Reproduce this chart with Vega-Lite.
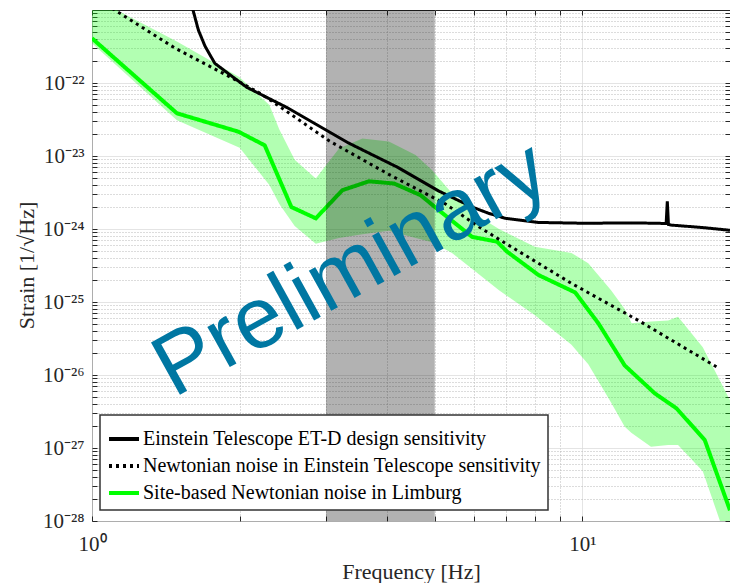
{
  "$schema": "https://vega.github.io/schema/vega-lite/v6.json",
  "width": 638,
  "height": 511,
  "autosize": {"type": "none"},
  "padding": {"left": 92, "top": 10, "right": 0, "bottom": 62},
  "background": "white",
  "config": {
    "view": {"stroke": "#262626", "strokeWidth": 1},
    "font": "Liberation Serif",
    "legend": {
      "direction": "vertical",
      "symbolType": "stroke",
      "symbolSize": 900,
      "symbolStrokeWidth": 4,
      "symbolOffset": 0,
      "labelFont": "Liberation Serif",
      "labelFontSize": 20,
      "labelColor": "#000000",
      "labelLimit": 800,
      "labelOffset": 2,
      "rowPadding": 0,
      "padding": 7,
      "fillColor": "#ffffff",
      "strokeColor": "#333333",
      "strokeWidth": 1.5
    }
  },
  "datasets": {
    "lines": [
      {"series": "Einstein Telescope ET-D design sensitivity", "f": 1.59, "strain": 1.3e-21},
      {"series": "Einstein Telescope ET-D design sensitivity", "f": 1.648, "strain": 5.3e-22},
      {"series": "Einstein Telescope ET-D design sensitivity", "f": 1.70, "strain": 3.2e-22},
      {"series": "Einstein Telescope ET-D design sensitivity", "f": 1.78, "strain": 1.86e-22},
      {"series": "Einstein Telescope ET-D design sensitivity", "f": 1.925, "strain": 1.25e-22},
      {"series": "Einstein Telescope ET-D design sensitivity", "f": 2.07, "strain": 8.7e-23},
      {"series": "Einstein Telescope ET-D design sensitivity", "f": 2.5, "strain": 4.6e-23},
      {"series": "Einstein Telescope ET-D design sensitivity", "f": 3.34, "strain": 1.5e-23},
      {"series": "Einstein Telescope ET-D design sensitivity", "f": 4.2, "strain": 7.0e-24},
      {"series": "Einstein Telescope ET-D design sensitivity", "f": 5.1, "strain": 3.3e-24},
      {"series": "Einstein Telescope ET-D design sensitivity", "f": 5.96, "strain": 2.0e-24},
      {"series": "Einstein Telescope ET-D design sensitivity", "f": 6.44, "strain": 1.64e-24},
      {"series": "Einstein Telescope ET-D design sensitivity", "f": 6.96, "strain": 1.4e-24},
      {"series": "Einstein Telescope ET-D design sensitivity", "f": 8.14, "strain": 1.23e-24},
      {"series": "Einstein Telescope ET-D design sensitivity", "f": 10.0, "strain": 1.2e-24},
      {"series": "Einstein Telescope ET-D design sensitivity", "f": 13.0, "strain": 1.21e-24},
      {"series": "Einstein Telescope ET-D design sensitivity", "f": 14.82, "strain": 1.19e-24},
      {"series": "Einstein Telescope ET-D design sensitivity", "f": 14.9, "strain": 2.4e-24},
      {"series": "Einstein Telescope ET-D design sensitivity", "f": 14.98, "strain": 1.15e-24},
      {"series": "Einstein Telescope ET-D design sensitivity", "f": 15.2, "strain": 1.13e-24},
      {"series": "Einstein Telescope ET-D design sensitivity", "f": 17.5, "strain": 1.05e-24},
      {"series": "Einstein Telescope ET-D design sensitivity", "f": 20.0, "strain": 9.6e-25},

      {"series": "Newtonian noise in Einstein Telescope sensitivity", "f": 1.10, "strain": 1.05e-21},
      {"series": "Newtonian noise in Einstein Telescope sensitivity", "f": 1.477, "strain": 3.0e-22},
      {"series": "Newtonian noise in Einstein Telescope sensitivity", "f": 1.99, "strain": 1.05e-22},
      {"series": "Newtonian noise in Einstein Telescope sensitivity", "f": 2.22, "strain": 7.0e-23},
      {"series": "Newtonian noise in Einstein Telescope sensitivity", "f": 3.05, "strain": 1.6e-23},
      {"series": "Newtonian noise in Einstein Telescope sensitivity", "f": 4.03, "strain": 5.6e-24},
      {"series": "Newtonian noise in Einstein Telescope sensitivity", "f": 5.26, "strain": 2.2e-24},
      {"series": "Newtonian noise in Einstein Telescope sensitivity", "f": 6.15, "strain": 1.07e-24},
      {"series": "Newtonian noise in Einstein Telescope sensitivity", "f": 6.96, "strain": 6.4e-25},
      {"series": "Newtonian noise in Einstein Telescope sensitivity", "f": 9.5, "strain": 1.8e-25},
      {"series": "Newtonian noise in Einstein Telescope sensitivity", "f": 13.0, "strain": 5.6e-26},
      {"series": "Newtonian noise in Einstein Telescope sensitivity", "f": 18.9, "strain": 1.26e-26},

      {"series": "Site-based Newtonian noise in Limburg", "f": 1.0, "strain": 4.1e-22},
      {"series": "Site-based Newtonian noise in Limburg", "f": 1.49, "strain": 3.85e-23},
      {"series": "Site-based Newtonian noise in Limburg", "f": 1.99, "strain": 2.15e-23},
      {"series": "Site-based Newtonian noise in Limburg", "f": 2.25, "strain": 1.4e-23},
      {"series": "Site-based Newtonian noise in Limburg", "f": 2.55, "strain": 2.0e-24},
      {"series": "Site-based Newtonian noise in Limburg", "f": 2.86, "strain": 1.4e-24},
      {"series": "Site-based Newtonian noise in Limburg", "f": 3.24, "strain": 3.4e-24},
      {"series": "Site-based Newtonian noise in Limburg", "f": 3.67, "strain": 4.5e-24},
      {"series": "Site-based Newtonian noise in Limburg", "f": 4.13, "strain": 4.2e-24},
      {"series": "Site-based Newtonian noise in Limburg", "f": 4.68, "strain": 2.9e-24},
      {"series": "Site-based Newtonian noise in Limburg", "f": 5.1, "strain": 1.8e-24},
      {"series": "Site-based Newtonian noise in Limburg", "f": 5.96, "strain": 7.8e-25},
      {"series": "Site-based Newtonian noise in Limburg", "f": 6.7, "strain": 6.7e-25},
      {"series": "Site-based Newtonian noise in Limburg", "f": 7.02, "strain": 4.9e-25},
      {"series": "Site-based Newtonian noise in Limburg", "f": 8.14, "strain": 2.34e-25},
      {"series": "Site-based Newtonian noise in Limburg", "f": 9.67, "strain": 1.35e-25},
      {"series": "Site-based Newtonian noise in Limburg", "f": 10.78, "strain": 5.1e-26},
      {"series": "Site-based Newtonian noise in Limburg", "f": 12.2, "strain": 1.35e-26},
      {"series": "Site-based Newtonian noise in Limburg", "f": 14.05, "strain": 5.6e-27},
      {"series": "Site-based Newtonian noise in Limburg", "f": 15.55, "strain": 3.5e-27},
      {"series": "Site-based Newtonian noise in Limburg", "f": 17.76, "strain": 1.29e-27},
      {"series": "Site-based Newtonian noise in Limburg", "f": 20.0, "strain": 1.4e-28}
    ],
    "band": [
      {"f": 1.0, "hi": 1.5e-21, "lo": 3.5e-22},
      {"f": 1.49, "hi": 3.7e-22, "lo": 3.1e-23},
      {"f": 2.0, "hi": 1.2e-22, "lo": 1.3e-23},
      {"f": 2.3, "hi": 5.0e-23, "lo": 4.0e-24},
      {"f": 2.41, "hi": 2.3e-23, "lo": 2.2e-24},
      {"f": 2.59, "hi": 8.9e-24, "lo": 1.1e-24},
      {"f": 2.86, "hi": 4.9e-24, "lo": 6.3e-25},
      {"f": 3.19, "hi": 1.27e-23, "lo": 7.5e-25},
      {"f": 3.56, "hi": 1.73e-23, "lo": 8.5e-25},
      {"f": 4.03, "hi": 1.58e-23, "lo": 9.5e-25},
      {"f": 4.57, "hi": 1.03e-23, "lo": 7.5e-25},
      {"f": 4.94, "hi": 6.4e-24, "lo": 6.6e-25},
      {"f": 5.42, "hi": 3.1e-24, "lo": 4.7e-25},
      {"f": 6.15, "hi": 1.48e-24, "lo": 2.4e-25},
      {"f": 6.76, "hi": 1.0e-24, "lo": 1.45e-25},
      {"f": 8.0, "hi": 5.7e-25, "lo": 6.6e-26},
      {"f": 9.5, "hi": 4.7e-25, "lo": 2.6e-26},
      {"f": 10.28, "hi": 3.4e-25, "lo": 1.4e-26},
      {"f": 11.44, "hi": 1.45e-25, "lo": 4.2e-27},
      {"f": 12.2, "hi": 8.0e-26, "lo": 1.95e-27},
      {"f": 12.6, "hi": 5.1e-26, "lo": 1.6e-27},
      {"f": 13.8, "hi": 5.4e-26, "lo": 1.04e-27},
      {"f": 14.96, "hi": 5.6e-26, "lo": 1.1e-27},
      {"f": 15.67, "hi": 6.3e-26, "lo": 1.1e-27},
      {"f": 17.6, "hi": 2.4e-26, "lo": 4.8e-28},
      {"f": 20.0, "hi": 4.5e-27, "lo": 4.0e-29}
    ],
    "focus": [{"f0": 3, "f1": 5}],
    "note": [{"f": 3.38, "strain": 2.75e-25, "text": "Preliminary"}]
  },
  "layer": [
    {
      "data": {"name": "band"},
      "mark": {"type": "area", "color": "#00ff00", "opacity": 0.3, "clip": true},
      "encoding": {
        "x": {
          "field": "f",
          "type": "quantitative",
          "scale": {"type": "log", "domain": [1, 20], "nice": false},
          "axis": {
            "orient": "bottom",
            "values": [1, 2, 3, 4, 5, 6, 7, 8, 9, 10, 20],
            "labelExpr": "datum.value == 1 ? '10⁰' : datum.value == 10 ? '10¹' : ''",
            "labelOverlap": false,
            "labelFlush": false,
            "labelBound": false,
            "labelFont": "Liberation Serif",
            "labelFontSize": 21,
            "labelColor": "#262626",
            "labelPadding": 17,
            "grid": true,
            "gridColor": {"condition": {"test": "datum.value == 1 || datum.value == 10", "value": "#dadada"}, "value": "#b8b8b8"},
            "gridDash": {"condition": {"test": "datum.value == 1 || datum.value == 10", "value": [1, 0]}, "value": [1, 2]},
            "domain": false,
            "ticks": true,
            "tickSize": -5,
            "tickColor": "#262626",
            "title": "Frequency [Hz]",
            "titleFont": "Liberation Serif",
            "titleFontSize": 22,
            "titleFontWeight": "normal",
            "titleColor": "#262626",
            "titleBaseline": "alphabetic",
            "titleY": 57
          }
        },
        "y": {
          "field": "hi",
          "type": "quantitative",
          "scale": {"type": "log", "domain": [1e-28, 1e-21], "nice": false},
          "axis": {
            "orient": "left",
            "values": [1e-28, 2e-28, 3e-28, 4e-28, 5e-28, 6e-28, 7e-28, 8e-28, 9e-28,
                       1e-27, 2e-27, 3e-27, 4e-27, 5e-27, 6e-27, 7e-27, 8e-27, 9e-27,
                       1e-26, 2e-26, 3e-26, 4e-26, 5e-26, 6e-26, 7e-26, 8e-26, 9e-26,
                       1e-25, 2e-25, 3e-25, 4e-25, 5e-25, 6e-25, 7e-25, 8e-25, 9e-25,
                       1e-24, 2e-24, 3e-24, 4e-24, 5e-24, 6e-24, 7e-24, 8e-24, 9e-24,
                       1e-23, 2e-23, 3e-23, 4e-23, 5e-23, 6e-23, 7e-23, 8e-23, 9e-23,
                       1e-22, 2e-22, 3e-22, 4e-22, 5e-22, 6e-22, 7e-22, 8e-22, 9e-22],
            "labelExpr": "abs(log(datum.value)/LN10 - round(log(datum.value)/LN10)) < 0.000001 ? '10' + replace(replace(replace(replace(replace(replace(replace(replace(replace(replace('' + round(log(datum.value)/LN10), regexp('-','g'), '⁻'), regexp('0','g'), '⁰'), regexp('1','g'), '¹'), regexp('2','g'), '²'), regexp('3','g'), '³'), regexp('4','g'), '⁴'), regexp('5','g'), '⁵'), regexp('6','g'), '⁶'), regexp('7','g'), '⁷'), regexp('8','g'), '⁸') : ''",
            "labelOverlap": false,
            "labelFlush": false,
            "labelBound": false,
            "labelFont": "Liberation Serif",
            "labelFontSize": 21,
            "labelColor": "#262626",
            "labelPadding": 13,
            "grid": true,
            "gridColor": {"condition": {"test": "abs(log(datum.value)/LN10 - round(log(datum.value)/LN10)) < 0.000001", "value": "#dadada"}, "value": "#b8b8b8"},
            "gridDash": {"condition": {"test": "abs(log(datum.value)/LN10 - round(log(datum.value)/LN10)) < 0.000001", "value": [1, 0]}, "value": [1, 2]},
            "domain": false,
            "ticks": true,
            "tickSize": -5,
            "tickColor": "#262626",
            "title": "Strain [1/√Hz]",
            "titleFont": "Liberation Serif",
            "titleFontSize": 22,
            "titleFontWeight": "normal",
            "titleColor": "#262626",
            "titleAngle": -90,
            "titleBaseline": "alphabetic",
            "titleAlign": "center",
            "titleX": -59,
            "titleY": 255
          }
        },
        "y2": {"field": "lo"}
      }
    },
    {
      "data": {"name": "lines"},
      "transform": [{"filter": "datum.series == 'Site-based Newtonian noise in Limburg'"}],
      "mark": {"type": "line", "strokeWidth": 4, "clip": true},
      "encoding": {
        "x": {"field": "f", "type": "quantitative", "axis": null},
        "y": {"field": "strain", "type": "quantitative", "axis": null},
        "color": {
          "field": "series",
          "type": "nominal",
          "scale": {
            "domain": ["Einstein Telescope ET-D design sensitivity", "Newtonian noise in Einstein Telescope sensitivity", "Site-based Newtonian noise in Limburg"],
            "range": ["#000000", "#000000", "#00ff00"]
          },
          "legend": {"title": null, "orient": "none", "legendX": 8, "legendY": 405}
        },
        "strokeDash": {
          "field": "series",
          "type": "nominal",
          "scale": {
            "domain": ["Einstein Telescope ET-D design sensitivity", "Newtonian noise in Einstein Telescope sensitivity", "Site-based Newtonian noise in Limburg"],
            "range": [[1, 0], [3, 4], [1, 0]]
          },
          "legend": {"title": null, "orient": "none", "legendX": 8, "legendY": 405}
        }
      }
    },
    {
      "data": {"name": "lines"},
      "transform": [{"filter": "datum.series == 'Einstein Telescope ET-D design sensitivity'"}],
      "mark": {"type": "line", "strokeWidth": 3, "clip": true},
      "encoding": {
        "x": {"field": "f", "type": "quantitative", "axis": null},
        "y": {"field": "strain", "type": "quantitative", "axis": null},
        "color": {"field": "series", "type": "nominal", "legend": {"title": null, "orient": "none", "legendX": 8, "legendY": 405}},
        "strokeDash": {"field": "series", "type": "nominal", "legend": {"title": null, "orient": "none", "legendX": 8, "legendY": 405}}
      }
    },
    {
      "data": {"name": "lines"},
      "transform": [{"filter": "datum.series == 'Newtonian noise in Einstein Telescope sensitivity'"}],
      "mark": {"type": "line", "strokeWidth": 3, "strokeCap": "butt", "clip": true},
      "encoding": {
        "x": {"field": "f", "type": "quantitative", "axis": null},
        "y": {"field": "strain", "type": "quantitative", "axis": null},
        "color": {"field": "series", "type": "nominal", "legend": {"title": null, "orient": "none", "legendX": 8, "legendY": 405}},
        "strokeDash": {"field": "series", "type": "nominal", "legend": {"title": null, "orient": "none", "legendX": 8, "legendY": 405}}
      }
    },
    {
      "data": {"name": "focus"},
      "mark": {"type": "rect", "color": "#000000", "opacity": 0.3},
      "encoding": {
        "x": {"field": "f0", "type": "quantitative", "axis": null},
        "x2": {"field": "f1"}
      }
    },
    {
      "data": {"name": "note"},
      "mark": {
        "type": "text",
        "font": "Liberation Sans",
        "fontSize": 87,
        "angle": -29,
        "color": "#0077a2",
        "align": "center",
        "baseline": "middle"
      },
      "encoding": {
        "x": {
          "field": "f",
          "type": "quantitative",
          "axis": {
            "orient": "top",
            "values": [1, 2, 3, 4, 5, 6, 7, 8, 9, 10, 20],
            "labels": false,
            "grid": false,
            "domain": false,
            "ticks": true,
            "tickSize": -5,
            "tickColor": "#262626",
            "title": null
          }
        },
        "y": {
          "field": "strain",
          "type": "quantitative",
          "axis": {
            "orient": "right",
            "values": [1e-28, 2e-28, 3e-28, 4e-28, 5e-28, 6e-28, 7e-28, 8e-28, 9e-28,
                       1e-27, 2e-27, 3e-27, 4e-27, 5e-27, 6e-27, 7e-27, 8e-27, 9e-27,
                       1e-26, 2e-26, 3e-26, 4e-26, 5e-26, 6e-26, 7e-26, 8e-26, 9e-26,
                       1e-25, 2e-25, 3e-25, 4e-25, 5e-25, 6e-25, 7e-25, 8e-25, 9e-25,
                       1e-24, 2e-24, 3e-24, 4e-24, 5e-24, 6e-24, 7e-24, 8e-24, 9e-24,
                       1e-23, 2e-23, 3e-23, 4e-23, 5e-23, 6e-23, 7e-23, 8e-23, 9e-23,
                       1e-22, 2e-22, 3e-22, 4e-22, 5e-22, 6e-22, 7e-22, 8e-22, 9e-22],
            "labels": false,
            "grid": false,
            "domain": false,
            "ticks": true,
            "tickSize": -5,
            "tickColor": "#262626",
            "title": null
          }
        },
        "text": {"field": "text"}
      }
    }
  ],
  "resolve": {"axis": {"x": "independent", "y": "independent"}}
}
